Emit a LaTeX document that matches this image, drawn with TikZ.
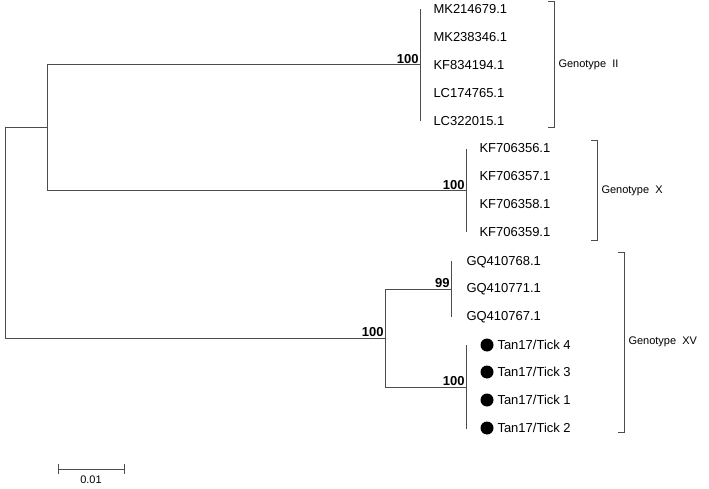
\documentclass[tikz,border=0pt]{standalone}
\usepackage{fontspec}
\setmainfont{Liberation Sans}
\usetikzlibrary{positioning}
\begin{document}
\begin{tikzpicture}[x=1pt,y=-1pt,line width=1pt,draw=black!70,
  tip/.style={anchor=west,font=\fontsize{13}{13}\selectfont,inner sep=0pt},
  boot/.style={anchor=south east,font=\bfseries\fontsize{13}{13}\selectfont,inner sep=1pt},
  geno/.style={anchor=west,font=\fontsize{11}{11}\selectfont,inner sep=0pt},
  dot/.style={circle,fill=black,inner sep=0pt,minimum size=13pt}]
\useasboundingbox (0,0) rectangle (709,489);
% internal nodes
\coordinate (root) at (5,338);
\coordinate (top) at (47,128);
\coordinate (g2) at (420,65);
\coordinate (gx) at (466,191);
\coordinate (g15) at (385,338);
\coordinate (gq) at (451,289);
\coordinate (tan) at (466,387);
% branches
\draw (root) |- (top);
\draw (top) |- (g2);
\draw (top) |- (gx);
\draw (root) -- (g15);
\draw (g15) |- (gq);
\draw (g15) |- (tan);
\draw (420,9) -- (420,121);
\draw (466,149) -- (466,232);
\draw (451,261) -- (451,317);
\draw (466,345) -- (466,429);
% bootstrap values
\node[boot] at (g2) {100};
\node[boot] at (gx) {100};
\node[boot] at (g15) {100};
\node[boot] at (gq) {99};
\node[boot] at (tan) {100};
% tips
\foreach \lab [count=\i] in {MK214679.1,MK238346.1,KF834194.1,LC174765.1,LC322015.1}
  \node[tip] (ii\i) at (433,{9+28*(\i-1)}) {\lab};
\foreach \lab [count=\i] in {KF706356.1,KF706357.1,KF706358.1,KF706359.1}
  \node[tip] (x\i) at (479,{148+28*(\i-1)}) {\lab};
\foreach \lab [count=\i] in {GQ410768.1,GQ410771.1,GQ410767.1}
  \node[tip] (gq\i) at (466,{262+27.5*(\i-1)}) {\lab};
\foreach \lab/\y [count=\i] in {4/345,3/372,1/400,2/428}{
  \node[dot] (d\i) at (487,\y) {};
  \node[tip] (t\i) at (497,\y) {Tan17/Tick \lab};
}
% genotype brackets
\draw (548,2) -- (554,2) -- (554,128) -- (548,128);
\node[geno] (lii) at (558,65) {Genotype\ \ II};
\draw (591,141) -- (597,141) -- (597,240) -- (591,240);
\node[geno] (lx) at (601,191) {Genotype\ \ X};
\draw (618,252) -- (624,252) -- (624,432) -- (618,432);
\node[geno] (lxv) at (628,342) {Genotype\ \ XV};
% scale bar
\draw (58,464) -- (58,474) (58,469) -- (124,469) (124,464) -- (124,474);
\node[geno,anchor=north] (sc) at (91,475) {0.01};
\end{tikzpicture}
\end{document}
